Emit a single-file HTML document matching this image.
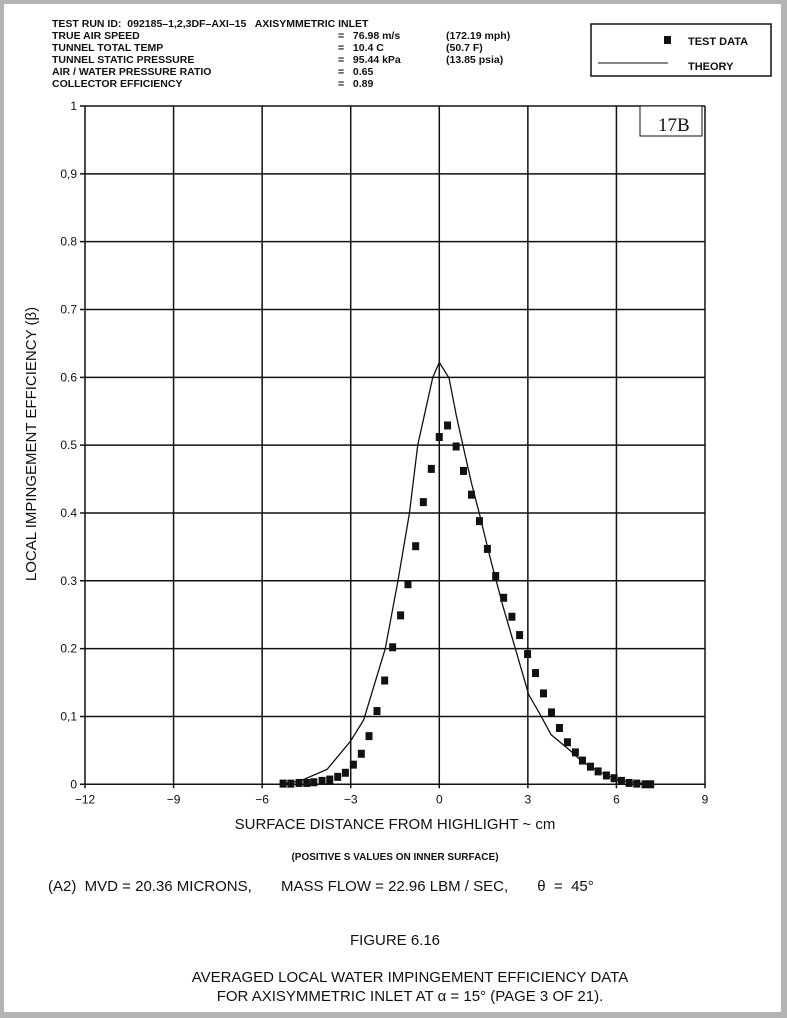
<!DOCTYPE html>
<html><head><meta charset="utf-8"><style>
html,body{margin:0;padding:0;background:#fff}
svg{display:block}
text{font-family:"Liberation Sans",sans-serif;fill:#111;white-space:pre}
</style></head><body>
<svg id="c" width="787" height="1018" viewBox="0 0 787 1018" xmlns="http://www.w3.org/2000/svg" xml:space="preserve">
<rect x="0" y="0" width="787" height="1018" fill="#b4b4b4"/>
<rect x="4" y="4" width="777" height="1008" fill="#fff"/>
<g>
<text x="52" y="27" font-size="10.5" font-weight="bold">TEST RUN ID:  092185–1,2,3DF–AXI–15   AXISYMMETRIC INLET</text>
<text x="52" y="39" font-size="10.5" font-weight="bold">TRUE AIR SPEED</text>
<text x="52" y="51" font-size="10.5" font-weight="bold">TUNNEL TOTAL TEMP</text>
<text x="52" y="63" font-size="10.5" font-weight="bold">TUNNEL STATIC PRESSURE</text>
<text x="52" y="75" font-size="10.5" font-weight="bold">AIR / WATER PRESSURE RATIO</text>
<text x="52" y="87" font-size="10.5" font-weight="bold">COLLECTOR EFFICIENCY</text>
<text x="338" y="39" font-size="10.5" font-weight="bold">=   76.98 m/s</text>
<text x="338" y="51" font-size="10.5" font-weight="bold">=   10.4 C</text>
<text x="338" y="63" font-size="10.5" font-weight="bold">=   95.44 kPa</text>
<text x="338" y="75" font-size="10.5" font-weight="bold">=   0.65</text>
<text x="338" y="87" font-size="10.5" font-weight="bold">=   0.89</text>
<text x="446" y="39" font-size="10.5" font-weight="bold">(172.19 mph)</text>
<text x="446" y="51" font-size="10.5" font-weight="bold">(50.7 F)</text>
<text x="446" y="63" font-size="10.5" font-weight="bold">(13.85 psia)</text>
</g>
<g>
<rect x="591" y="24" width="180" height="52" fill="none" stroke="#111" stroke-width="1.5"/>
<rect x="664" y="36" width="7" height="8" fill="#111"/>
<text x="688" y="45" font-size="11" font-weight="bold">TEST DATA</text>
<line x1="598" y1="63" x2="668" y2="63" stroke="#111"/>
<text x="688" y="70" font-size="11" font-weight="bold">THEORY</text>
</g>
<g id="grid"></g>
<g id="axes"></g>
<g id="series"></g>
<g>
<rect x="640" y="106" width="62" height="30" fill="#fff" stroke="#111" stroke-width="1"/>
<text x="658" y="131" font-size="19" style="font-family:'Liberation Serif',serif">17B</text>
</g>
<text x="0" y="0" transform="translate(36,444) rotate(-90)" text-anchor="middle" font-size="15">LOCAL IMPINGEMENT EFFICIENCY (β)</text>
<text x="395" y="829" text-anchor="middle" font-size="15">SURFACE DISTANCE FROM HIGHLIGHT ~ cm</text>
<text x="395" y="860" text-anchor="middle" font-size="10" font-weight="bold">(POSITIVE S VALUES ON INNER SURFACE)</text>
<text x="48" y="891" font-size="15">(A2)  MVD = 20.36 MICRONS,       MASS FLOW = 22.96 LBM / SEC,       θ  =  45°</text>
<text x="395" y="945" text-anchor="middle" font-size="15">FIGURE 6.16</text>
<text x="410" y="982" text-anchor="middle" font-size="15">AVERAGED LOCAL WATER IMPINGEMENT EFFICIENCY DATA</text>
<text x="410" y="1001" text-anchor="middle" font-size="15">FOR AXISYMMETRIC INLET AT α = 15° (PAGE 3 OF 21).</text>
</svg>
<script>
const xTicks=[-12,-9,-6,-3,0,3,6,9];
const yTicks=[0,0.1,0.2,0.3,0.4,0.5,0.6,0.7,0.8,0.9,1];
const yTickLabels=["0","0,1","0.2","0.3","0.4","0.5","0.6","0.7","0.8","0,9","1"];
const testX=[-5.29,-5.03,-4.75,-4.49,-4.25,-3.97,-3.71,-3.44,-3.18,-2.91,-2.64,-2.38,-2.11,-1.85,-1.58,-1.31,-1.06,-0.80,-0.54,-0.27,0,0.28,0.57,0.82,1.09,1.36,1.63,1.91,2.18,2.46,2.72,2.99,3.26,3.53,3.80,4.07,4.34,4.61,4.85,5.12,5.38,5.66,5.92,6.17,6.43,6.69,6.97,7.16];
const testY=[0.001,0.001,0.002,0.002,0.003,0.005,0.007,0.011,0.017,0.029,0.045,0.071,0.108,0.153,0.202,0.249,0.295,0.351,0.416,0.465,0.512,0.529,0.498,0.462,0.427,0.388,0.347,0.307,0.275,0.247,0.220,0.192,0.164,0.134,0.106,0.083,0.062,0.047,0.035,0.026,0.019,0.013,0.009,0.005,0.002,0.001,0,0];
const theoryX=[-5.4,-4.7,-3.8,-3.0,-2.56,-1.83,-1.40,-1.01,-0.73,-0.22,0,0.33,0.58,0.81,1.09,1.37,1.71,2.16,2.61,3.03,3.39,3.79,4.4,4.85,5.53,6.09,7.1];
const theoryY=[0,0.005,0.022,0.064,0.095,0.2,0.3,0.4,0.5,0.6,0.622,0.599,0.543,0.498,0.444,0.397,0.336,0.262,0.195,0.132,0.105,0.073,0.051,0.033,0.016,0.006,0];
const X0=85,X1=705,Y0=784.3,Y1=106;
const sx=v=>X0+(v+12)/21*(X1-X0);
const sy=v=>Y0-v*(Y0-Y1);
const NS="http://www.w3.org/2000/svg";
function mk(t,a,p){const e=document.createElementNS(NS,t);for(const k in a)e.setAttribute(k,a[k]);p.appendChild(e);return e;}
const grid=document.getElementById('grid'),axes=document.getElementById('axes'),ser=document.getElementById('series');
xTicks.forEach(v=>{
 const l=mk('line',{x1:sx(v),x2:sx(v),y1:Y1,y2:Y0+4,stroke:'#111','stroke-width':1.5},grid);
 
 
 const t=mk('text',{x:sx(v),y:Y0+19,'text-anchor':'middle','font-size':12},axes);
 t.textContent=v<0?'−'+(-v):String(v);
 
 
});
yTicks.forEach((v,i)=>{
 const l=mk('line',{x1:X0-5,x2:X1,y1:sy(v),y2:sy(v),stroke:'#111','stroke-width':1.5},grid);
 
 
 const t=mk('text',{x:X0-8,y:sy(v)+4,'text-anchor':'end','font-size':12},axes);
 t.textContent=yTickLabels[i];
 
 
});
const path=mk('polyline',{points:theoryX.map((x,i)=>sx(x)+','+sy(theoryY[i])).join(' '),fill:'none',stroke:'#111','stroke-width':1.3},ser);


testX.forEach((x,i)=>{
 const r=mk('rect',{x:sx(x)-3.5,y:sy(testY[i])-4,width:7,height:8,fill:'#111'},ser);
 
 
});
</script>
</body></html>
